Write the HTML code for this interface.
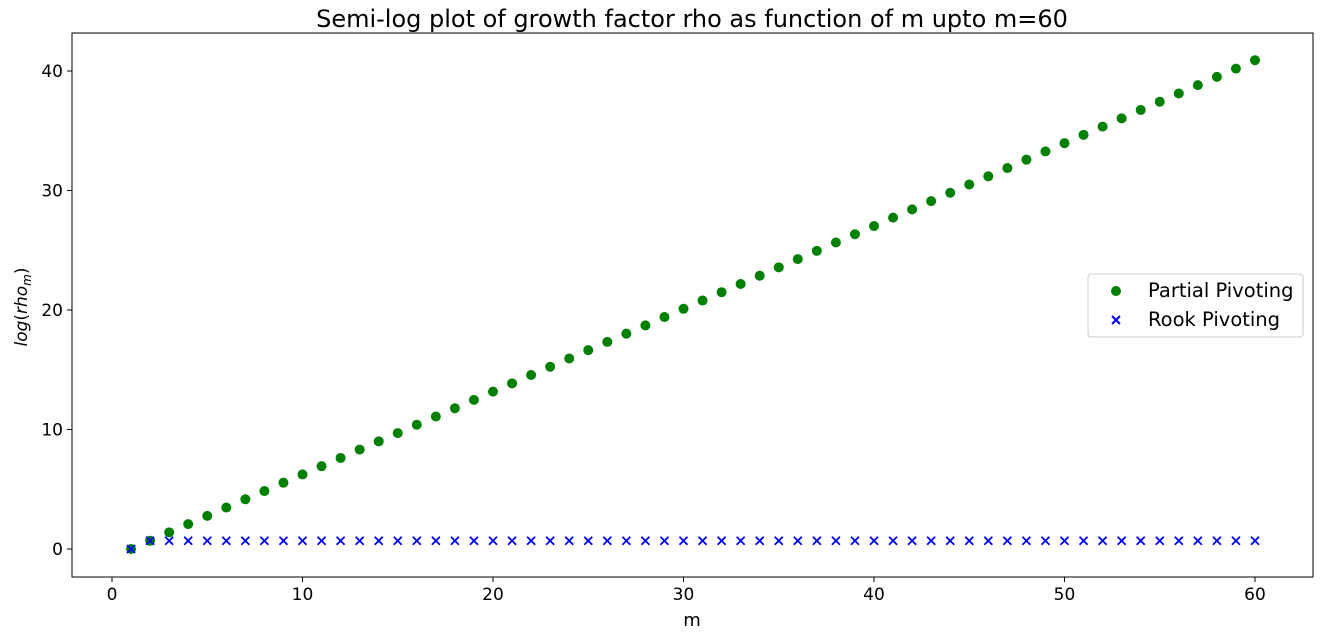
<!DOCTYPE html>
<html><head><meta charset="utf-8"><style>
body{margin:0;background:#fff;}
svg text{font-family:"DejaVu Sans","Liberation Sans",sans-serif;fill:#000;}
</style></head><body>
<svg id="chart" width="1322" height="638" xmlns="http://www.w3.org/2000/svg">
<text x="692" y="27" font-size="24" text-anchor="middle">Semi-log plot of growth factor rho as function of m upto m=60</text>
<rect x="72" y="33" width="1241" height="544" fill="none" stroke="#000" stroke-width="1"/>
<g id="xticks"></g><g id="yticks"></g><g id="marks"></g>
<text x="692" y="626" font-size="18" text-anchor="middle">m</text>
<text transform="translate(27,307) rotate(-90)" font-size="17" text-anchor="middle"><tspan font-style="italic">log</tspan>(<tspan font-style="italic">rho</tspan><tspan font-style="italic" font-size="12" dy="4">m</tspan><tspan dy="-4">)</tspan></text>
<g>
<rect x="1088" y="274" width="215" height="63" rx="3" fill="#fff" stroke="#ccc"/>
<circle cx="1116" cy="291" r="5" fill="#008000"/>
<text x="1148" y="297" font-size="19.5">Partial Pivoting</text>
<path d="M1112 316 l8 8 M1120 316 l-8 8" stroke="#0000ff" stroke-width="2"/>
<text x="1148" y="326" font-size="19.5">Rook Pivoting</text>
</g>
</svg>
<script>
const mValues=[1,2,3,4,5,6,7,8,9,10,11,12,13,14,15,16,17,18,19,20,21,22,23,24,25,26,27,28,29,30,31,32,33,34,35,36,37,38,39,40,41,42,43,44,45,46,47,48,49,50,51,52,53,54,55,56,57,58,59,60];
const partialValues=[0,0.69,1.39,2.08,2.77,3.47,4.16,4.85,5.55,6.24,6.93,7.62,8.32,9.01,9.70,10.40,11.09,11.78,12.48,13.17,13.86,14.56,15.25,15.94,16.64,17.33,18.02,18.71,19.41,20.10,20.79,21.49,22.18,22.87,23.57,24.26,24.95,25.65,26.34,27.03,27.73,28.42,29.11,29.81,30.50,31.19,31.88,32.58,33.27,33.96,34.66,35.35,36.04,36.74,37.43,38.12,38.82,39.51,40.20,40.90];
const rookValues=[0,0.69,0.69,0.69,0.69,0.69,0.69,0.69,0.69,0.69,0.69,0.69,0.69,0.69,0.69,0.69,0.69,0.69,0.69,0.69,0.69,0.69,0.69,0.69,0.69,0.69,0.69,0.69,0.69,0.69,0.69,0.69,0.69,0.69,0.69,0.69,0.69,0.69,0.69,0.69,0.69,0.69,0.69,0.69,0.69,0.69,0.69,0.69,0.69,0.69,0.69,0.69,0.69,0.69,0.69,0.69,0.69,0.69,0.69,0.69];
const xTickLabels=[0,10,20,30,40,50,60];
const yTickLabels=[0,10,20,30,40];
const NS="http://www.w3.org/2000/svg";
function xScale(v){return 112+v*19.05;}
function yScale(v){return 549-v*11.95;}
function mk(t,a,p){const e=document.createElementNS(NS,t);for(const k in a)e.setAttribute(k,a[k]);p.appendChild(e);return e;}
const xt=document.getElementById('xticks'),yt=document.getElementById('yticks'),mg=document.getElementById('marks');
xTickLabels.forEach(v=>{
 const x=xScale(v);
 const l=mk('line',{x1:x,x2:x,y1:577,y2:582,stroke:'#000'},xt);
 
 
 const t=mk('text',{x:x,y:600,'font-size':17,'text-anchor':'middle'},xt);t.textContent=v;
 
 
});
yTickLabels.forEach(v=>{
 const y=yScale(v);
 const l=mk('line',{x1:67,x2:72,y1:y,y2:y,stroke:'#000'},yt);
 
 
 const t=mk('text',{x:63,y:y+6,'font-size':17,'text-anchor':'end'},yt);t.textContent=v;
 
 
});
mValues.forEach((m,i)=>{
 const c=mk('circle',{cx:xScale(m),cy:yScale(partialValues[i]),r:5,fill:'#008000'},mg);
 
 
});
mValues.forEach((m,i)=>{
 const x=xScale(m),y=yScale(rookValues[i]);
 const p=mk('path',{d:`M${x-4} ${y-4} L${x+4} ${y+4} M${x+4} ${y-4} L${x-4} ${y+4}`,stroke:'#0000ff','stroke-width':1.8},mg);
 
 
});
</script>
</body></html>
